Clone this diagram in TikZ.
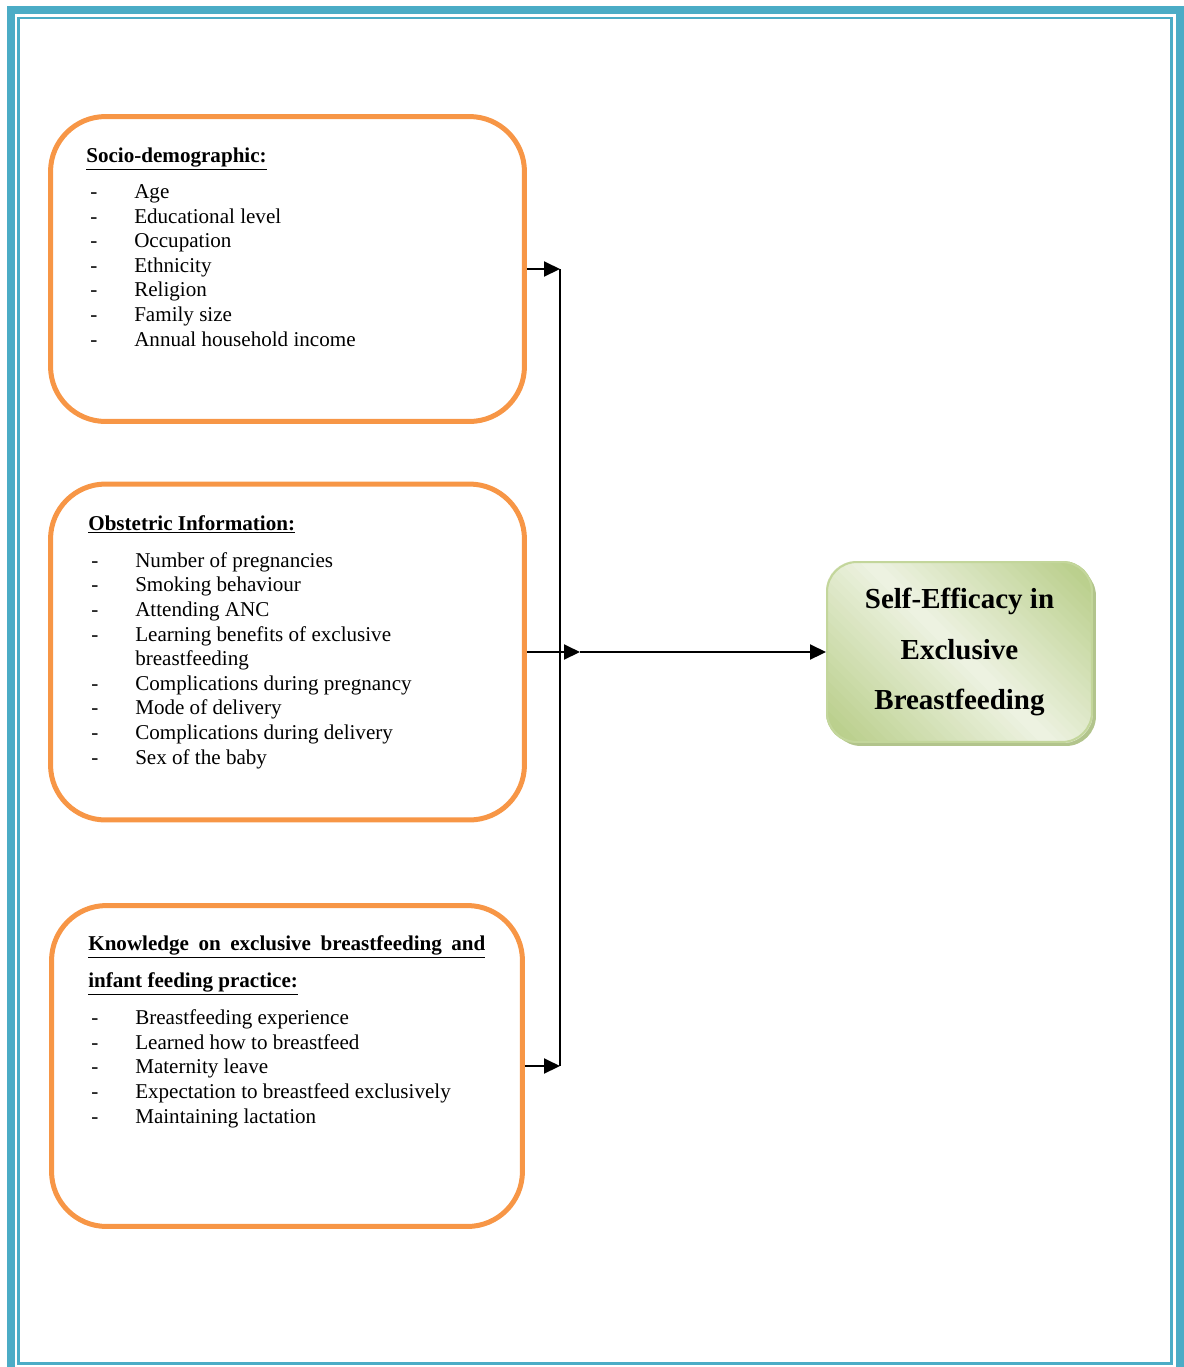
\documentclass[tikz,border=0pt]{standalone}
\usepackage{fontspec}
\setmainfont{Liberation Serif}
\usetikzlibrary{arrows.meta,backgrounds}
\definecolor{frameblue}{HTML}{4BACC6}
\definecolor{boxorange}{HTML}{F79646}
\definecolor{greenedge}{RGB}{195,214,155}
\definecolor{greendark}{RGB}{186,207,140}
\definecolor{greenlight}{RGB}{238,243,227}
\definecolor{greenshadow}{RGB}{178,196,140}

\tikzset{
  factor/.style={draw=boxorange, line width=0.1cm, rounded corners=1.1cm, inner sep=0pt, minimum width=9.48cm},
  heading/.style={anchor=base west, inner sep=0pt, font=\fontsize{12}{14}\selectfont\bfseries},
  items/.style={anchor=base west, inner sep=0pt, align=left, font=\fontsize{12}{14}\selectfont},
  outcome/.style={rounded corners=0.6cm, minimum width=5.3cm, minimum height=3.6cm},
  link/.style={line width=0.04cm, -{Triangle[length=0.32cm,width=0.3cm]}},
}
\newcommand{\itm}[1]{\makebox[25pt][l]{-}#1}

\begin{document}
\begin{tikzpicture}[x=0.02cm, y=-0.02cm]
\useasboundingbox (0,0) rectangle (1184,1367);
% page frame
\draw[frameblue, line width=0.16cm] (11,9.5) rectangle (1180,1372);
\draw[frameblue, line width=0.055cm] (18.5,18) rectangle (1171.5,1363.5);

% factor boxes
\node[factor, minimum height=6.1cm] (soc) at (287.5,269) {};
\node[factor, minimum height=6.72cm] (obs) at (287.5,652) {};
\node[factor, minimum width=9.42cm, minimum height=6.42cm] (know) at (287,1066) {};

% (base of a multi-line node = its last line)
\node[heading] (soch) at (86,162) {\underline{Socio-demographic:}};
\node[items] (socl) at (90,346) {\itm{Age}\\ \itm{Educational level}\\ \itm{Occupation}\\
  \itm{Ethnicity}\\ \itm{Religion}\\ \itm{Family size}\\ \itm{Annual household income}};

\node[heading] (obsh) at (88,530) {\underline{Obstetric Information:}};
\node[items] (obsl) at (91,764) {\itm{Number of pregnancies}\\ \itm{Smoking behaviour}\\
  \itm{Attending ANC}\\ \itm{Learning benefits of exclusive}\\ \makebox[25pt]{}breastfeeding\\
  \itm{Complications during pregnancy}\\ \itm{Mode of delivery}\\
  \itm{Complications during delivery}\\ \itm{Sex of the baby}};

\node[heading, align=left, font=\fontsize{12}{21}\selectfont\bfseries] (knowh) at (88,987)
  {\underline{\makebox[226pt][s]{Knowledge on exclusive breastfeeding and}}\\ \underline{infant feeding practice:}};
\node[items] (knowl) at (91,1123) {\itm{Breastfeeding experience}\\ \itm{Learned how to breastfeed}\\
  \itm{Maternity leave}\\ \itm{Expectation to breastfeed exclusively}\\ \itm{Maintaining lactation}};

% outcome box
\node[outcome, draw=greenedge, line width=0.04cm,
  align=center, font=\fontsize{16.5}{28.5}\selectfont\bfseries] (self) at (959.5,652)
  {Self-Efficacy in\\ Exclusive\\ Breastfeeding};
% shadow and diagonal strips approximating the gradient
\begin{scope}[on background layer]
\node[outcome, fill=greenshadow] (selfshadow) at (963.5,656) {};
\clip[rounded corners=0.6cm] (self.south west) rectangle (self.north east);
\foreach \c in {-240,-230,...,230} {
  \pgfmathsetmacro\p{min(100,abs(\c+5)/2.0)}
  \fill[greendark!\p!greenlight] (659.5+\c,352) -- (1259.5+\c,952) -- (1271+\c,952) -- (671+\c,352) -- cycle;
}
\end{scope}

% connectors
\coordinate (jtop) at (560,269);
\coordinate (jbot) at (560,1066);
\coordinate (jmid) at (580,652);
\draw[line width=0.03cm] (jtop) -- (jbot);
\draw[link] (soc.east) -- (jtop);
\draw[link] (know.east) -- (jbot);
\draw[link] (obs.east) -- (jmid);
\draw[link] (jmid) -- (self.west);
\end{tikzpicture}
\end{document}
